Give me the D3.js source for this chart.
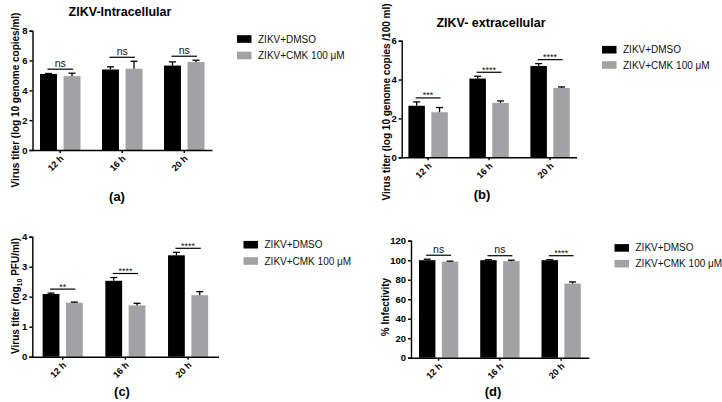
<!DOCTYPE html>
<html><head><meta charset="utf-8">
<script src="https://cdn.jsdelivr.net/npm/d3@7"></script>
<style>
html,body{margin:0;padding:0;background:#fff;}
svg{display:block;}
text{font-family:"Liberation Sans",Arial,sans-serif;}
</style></head><body>
<svg id="chart" width="722" height="402"></svg>
<script>
// ---- data ----
const categories = ["12 h", "16 h", "20 h"];
const seriesNames = ["ZIKV+DMSO", "ZIKV+CMK 100 μM"];

const intraDMSO = [5.1, 5.4, 5.66];
const intraDMSOErr = [0.03, 0.18, 0.25];
const intraCMK = [4.95, 5.45, 5.9];
const intraCMKErr = [0.2, 0.5, 0.12];
const intraSig = ["ns", "ns", "ns"];
const intraTicks = [0, 2, 4, 6, 8];

const extraDMSO = [2.65, 4.05, 4.7];
const extraDMSOErr = [0.2, 0.12, 0.12];
const extraCMK = [2.32, 2.8, 3.57];
const extraCMKErr = [0.24, 0.1, 0.05];
const extraSig = ["***", "****", "****"];
const extraTicks = [0, 2, 4, 6];

const pfuDMSO = [2.09, 2.53, 3.38];
const pfuDMSOErr = [0.03, 0.11, 0.1];
const pfuCMK = [1.8, 1.71, 2.05];
const pfuCMKErr = [0.02, 0.07, 0.12];
const pfuSig = ["**", "****", "****"];
const pfuTicks = [0, 1, 2, 3, 4];

const infDMSO = [100, 100, 100];
const infDMSOErr = [1, 0.5, 0.5];
const infCMK = [98.5, 99, 76];
const infCMKErr = [0.5, 1, 1.7];
const infSig = ["ns", "ns", "****"];
const infTicks = [0, 20, 40, 60, 80, 100, 120];

const colors = ["#000000", "#a2a2a4"];

// ---- layout ----
const panels = [
  {vals:[intraDMSO,intraCMK], errs:[intraDMSOErr,intraCMKErr], sig:intraSig, ticks:intraTicks,
   x0:32.5, x1:212, yTop:30.7, yBot:150, pi:0.347, po:0.121,
   title:"ZIKV-Intracellular", titleX:120, titleY:16,
   ylab:"Virus titer (log 10 genome copies/ml)", ylabX:15, ylabY:100,
   tag:"(a)", tagX:117, tagY:201, legX:237, legY:[39,55.5]},
  {vals:[extraDMSO,extraCMK], errs:[extraDMSOErr,extraCMKErr], sig:extraSig, ticks:extraTicks,
   x0:401.7, x1:576.5, yTop:40.7, yBot:157.3, pi:0.354, po:0.11,
   title:"ZIKV- extracellular", titleX:491, titleY:27,
   ylab:"Virus titer (log 10 genome copies /100 ml)", ylabX:386, ylabY:102,
   tag:"(b)", tagX:482, tagY:199, legX:602, legY:[49.7,65]},
  {vals:[pfuDMSO,pfuCMK], errs:[pfuDMSOErr,pfuCMKErr], sig:pfuSig, ticks:pfuTicks,
   x0:32.3, x1:218.5, yTop:236.7, yBot:356.7, pi:0.36, po:0.165,
   title:null,
   ylab:"PFU", ylabX:15, ylabY:296,
   tag:"(c)", tagX:122, tagY:396, legX:243.5, legY:[244.7,261]},
  {vals:[infDMSO,infCMK], errs:[infDMSOErr,infCMKErr], sig:infSig, ticks:infTicks,
   x0:411, x1:588.8, yTop:240.7, yBot:357.7, pi:0.358, po:0.13,
   title:null,
   ylab:"% Infectivity", ylabX:385, ylabY:307,
   tag:"(d)", tagX:493, tagY:396, legX:614.5, legY:[247.9,263.7]}
];

const svg = d3.select("#chart");

panels.forEach(p => {
  const g = svg.append("g");
  const x = d3.scaleBand().domain(categories).range([p.x0, p.x1])
      .paddingInner(p.pi).paddingOuter(p.po);
  const xs = d3.scaleBand().domain(d3.range(seriesNames.length)).range([0, x.bandwidth()])
      .paddingInner(0.28);
  const ymax = d3.max(p.ticks);
  const y = d3.scaleLinear().domain([0, ymax]).range([p.yBot, p.yTop]);

  // bars
  p.vals.forEach((arr, s) => {
    g.selectAll(null).data(arr).enter().append("rect")
      .attr("x", (d,i) => x(categories[i]) + xs(s))
      .attr("y", d => y(d))
      .attr("width", xs.bandwidth())
      .attr("height", d => y(0) - y(d))
      .attr("fill", colors[s]);
    // error bars (upper only)
    const e = p.errs[s];
    arr.forEach((d,i) => {
      const cx = x(categories[i]) + xs(s) + xs.bandwidth()/2;
      g.append("line").attr("x1",cx).attr("x2",cx).attr("y1",y(d)).attr("y2",y(d+e[i]))
        .attr("stroke","#000").attr("stroke-width",1.3);
      g.append("line").attr("x1",cx-3.5).attr("x2",cx+3.5).attr("y1",y(d+e[i])).attr("y2",y(d+e[i]))
        .attr("stroke","#000").attr("stroke-width",1.3);
    });
  });

  // significance
  categories.forEach((c,i) => {
    const top = d3.max(p.vals.map((arr,s) => arr[i] + p.errs[s][i]));
    const ly = y(top) - 4;
    const xa = x(c) + xs(0) + xs.bandwidth()/2 - 1;
    const xb = x(c) + xs(1) + xs.bandwidth()/2 + 1;
    g.append("line").attr("x1",xa).attr("x2",xb).attr("y1",ly).attr("y2",ly)
      .attr("stroke","#000").attr("stroke-width",1.2);
    const isNs = p.sig[i] === "ns";
    g.append("text").attr("x",(xa+xb)/2).attr("y", isNs ? ly-2.5 : ly+0.5)
      .attr("text-anchor","middle").attr("font-size", isNs ? 10.5 : 9)
      .attr("fill","#111").text(p.sig[i]);
  });

  // y axis
  const yAxis = d3.axisLeft(y).tickValues(p.ticks).tickSize(3).tickPadding(2).tickFormat(d3.format("d"));
  const ya = g.append("g").attr("transform",`translate(${p.x0},0)`).call(yAxis);
  ya.select(".domain").attr("stroke","#000").attr("stroke-width",1.4);
  ya.selectAll(".tick line").attr("stroke","#000").attr("stroke-width",1.4);
  ya.selectAll(".tick text").attr("font-size",9.5).attr("font-weight","bold")
    .attr("font-family","'Liberation Sans',Arial,sans-serif").attr("fill","#000");

  // x axis
  const xAxis = d3.axisBottom(x).tickSize(3).tickSizeOuter(0);
  const xa2 = g.append("g").attr("transform",`translate(0,${p.yBot})`).call(xAxis);
  xa2.select(".domain").attr("stroke","#000").attr("stroke-width",1.4);
  xa2.selectAll(".tick line").attr("stroke","#000").attr("stroke-width",1.4);
  xa2.selectAll(".tick text")
    .attr("font-size",9).attr("font-weight","bold")
    .attr("font-family","'Liberation Sans',Arial,sans-serif").attr("fill","#000")
    .attr("text-anchor","end").attr("dy",null).attr("y",null)
    .attr("transform","translate(4,9) rotate(-45)");

  // title
  if (p.title) {
    g.append("text").attr("x",p.titleX).attr("y",p.titleY).attr("text-anchor","middle")
      .attr("font-size",12.5).attr("font-weight","bold").text(p.title);
  }

  // y label
  const yl = g.append("text").attr("transform",`translate(${p.ylabX},${p.ylabY}) rotate(-90)`)
    .attr("text-anchor","middle").attr("dy","0.35em")
    .attr("font-size",10).attr("font-weight","bold");
  if (p.ylab === "PFU") {
    yl.append("tspan").text("Virus titer (log");
    yl.append("tspan").attr("font-size",7).attr("dy",3).text("10");
    yl.append("tspan").attr("dy",-3).text(" PFU/ml)");
  } else {
    yl.text(p.ylab);
  }

  // panel tag
  g.append("text").attr("x",p.tagX).attr("y",p.tagY).attr("text-anchor","middle")
    .attr("font-family","'Liberation Serif','DejaVu Serif',serif")
    .attr("font-size",13).attr("font-weight","bold").text(p.tag);

  // legend
  seriesNames.forEach((n,s) => {
    g.append("rect").attr("x",p.legX).attr("y",p.legY[s]-3.8).attr("width",14.5).attr("height",7.6)
      .attr("fill",colors[s]);
    g.append("text").attr("x",p.legX+21).attr("y",p.legY[s]).attr("dy","0.35em")
      .attr("font-size",10).attr("fill","#111").text(n);
  });
});
</script>
</body></html>
